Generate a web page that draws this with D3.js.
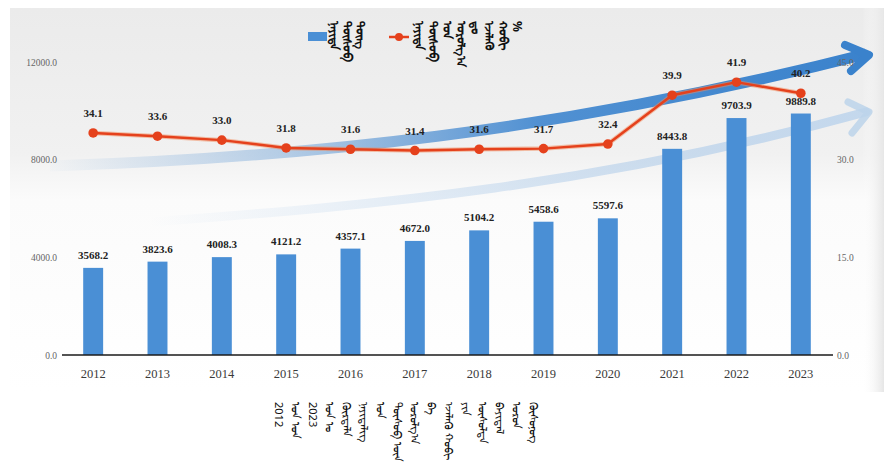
<!DOCTYPE html>
<html>
<head>
<meta charset="utf-8">
<script src="https://cdn.jsdelivr.net/npm/d3@7/dist/d3.min.js"></script>
<style>
  html, body { margin: 0; padding: 0; background: #ffffff; }
  svg { display: block; }
  .mong { writing-mode: vertical-lr; font-family: "Noto Sans", "DejaVu Sans", sans-serif; }
</style>
</head>
<body>
<svg id="chart" width="894" height="465"></svg>
<script>
// ---- data ----
const years = ["2012","2013","2014","2015","2016","2017","2018","2019","2020","2021","2022","2023"];
const amounts = [3568.2, 3823.6, 4008.3, 4121.2, 4357.1, 4672.0, 5104.2, 5458.6, 5597.6, 8443.8, 9703.9, 9889.8];
const shares = [34.1, 33.6, 33.0, 31.8, 31.6, 31.4, 31.6, 31.7, 32.4, 39.9, 41.9, 40.2];
const leftTicks = [0, 4000, 8000, 12000];
const rightTicks = [0, 15, 30, 45];
const legendBarText = ["ᠨᠡᠶᠢᠲᠡ", "ᠲᠥᠰᠥᠪ", "ᠳᠦᠩ"];
const legendLineText = ["ᠨᠡᠶᠢᠲᠡ", "ᠲᠥᠰᠥᠪ", "ᠤᠨ", "ᠣᠷᠣᠯᠭ᠎ᠠ", "ᠳᠤ", "ᠡᠵᠡᠯᠡᠬᠦ", "ᠬᠤᠪᠢ", "%"];
const noteText = ["2012", "ᠣᠨ ᠣᠨ", "2023", "ᠣᠨ ᠤ", "ᠬᠦᠷᠲᠡᠯᠡ", "ᠨᠡᠶᠢᠲᠡᠯᠢᠭ", "ᠤᠨ", "ᠲᠥᠰᠥᠪ ᠦᠨ", "ᠣᠷᠣᠯᠭ᠎ᠠ", "ᠪᠠ", "ᠡᠵᠡᠯᠡᠬᠦ ᠬᠤᠪᠢ", "ᠶᠢᠨ", "ᠥᠰᠦᠯᠲᠡ", "ᠪᠠᠶᠢᠳᠠᠯ", "ᠣᠷᠣᠨ", "ᠬᠦᠰᠦᠨᠦᠭ"];

const svg = d3.select("#chart");
const defs = svg.append("defs");

// background panel gradient
const bg = defs.append("linearGradient").attr("id","bgGrad").attr("x1",0).attr("y1",0).attr("x2",0).attr("y2",1);
bg.append("stop").attr("offset","0%").attr("stop-color","#ebebeb");
bg.append("stop").attr("offset","38%").attr("stop-color","#f1f1f1");
bg.append("stop").attr("offset","50%").attr("stop-color","#fbfbfb");
bg.append("stop").attr("offset","100%").attr("stop-color","#ffffff");
svg.append("rect").attr("x",10).attr("y",8).attr("width",872).attr("height",384).attr("fill","url(#bgGrad)");
const side = defs.append("linearGradient").attr("id","sideGrad").attr("x1",0).attr("y1",0).attr("x2",1).attr("y2",0);
side.append("stop").attr("offset","0%").attr("stop-color","#ffffff").attr("stop-opacity",0);
side.append("stop").attr("offset","100%").attr("stop-color","#e6e6e6");
svg.append("rect").attr("x",862).attr("y",8).attr("width",22).attr("height",384).attr("fill","url(#sideGrad)");

// swoosh gradients
const sw1 = defs.append("linearGradient").attr("id","sw1").attr("gradientUnits","userSpaceOnUse")
  .attr("x1",40).attr("y1",0).attr("x2",870).attr("y2",0);
sw1.append("stop").attr("offset","0%").attr("stop-color","#3f86cf").attr("stop-opacity",0);
sw1.append("stop").attr("offset","30%").attr("stop-color","#3f86cf").attr("stop-opacity",0.35);
sw1.append("stop").attr("offset","60%").attr("stop-color","#3f86cf").attr("stop-opacity",0.9);
sw1.append("stop").attr("offset","100%").attr("stop-color","#3a82cc").attr("stop-opacity",1);
const sw2 = defs.append("linearGradient").attr("id","sw2").attr("gradientUnits","userSpaceOnUse")
  .attr("x1",150).attr("y1",0).attr("x2",870).attr("y2",0);
sw2.append("stop").attr("offset","0%").attr("stop-color","#a9c8e8").attr("stop-opacity",0);
sw2.append("stop").attr("offset","60%").attr("stop-color","#a9c8e8").attr("stop-opacity",0.5);
sw2.append("stop").attr("offset","100%").attr("stop-color","#b9d2ec").attr("stop-opacity",0.8);

// faint lower swoosh
svg.append("path")
  .attr("d","M150,222 C380,205 600,185 866,112")
  .attr("fill","none").attr("stroke","url(#sw2)").attr("stroke-width",9).attr("stroke-linecap","round");
svg.append("path")
  .attr("d","M848,102 L869,112 L852,133")
  .attr("fill","none").attr("stroke","#bcd3ea").attr("stroke-width",7).attr("stroke-linecap","round").attr("stroke-linejoin","round").attr("opacity",0.85);
// main swoosh
svg.append("path")
  .attr("d","M50,166 C300,158 560,132 866,54")
  .attr("fill","none").attr("stroke","url(#sw1)").attr("stroke-width",11).attr("stroke-linecap","butt");
svg.append("path")
  .attr("d","M845,45 L869,55 L851,71")
  .attr("fill","none").attr("stroke","#3a82cc").attr("stroke-width",8).attr("stroke-linecap","round").attr("stroke-linejoin","round");

// ---- scales ----
const x = d3.scaleBand().domain(years).range([61, 833]).paddingInner(0.69).paddingOuter(0.345);
const yL = d3.scaleLinear().domain([0, 12000]).range([355, 62]);
const yR = d3.scaleLinear().domain([0, 45]).range([355, 62]);
const cx = d => x(d) + x.bandwidth() / 2;

// axes
const fontSerif = '"Liberation Serif", "DejaVu Serif", serif';
const gL = svg.append("g").attr("transform","translate(57,0)")
  .call(d3.axisLeft(yL).tickValues(leftTicks).tickSize(0).tickPadding(0).tickFormat(d3.format(".1f")));
gL.select(".domain").remove();
gL.selectAll("text").attr("font-family",fontSerif).attr("font-size",9.5).attr("fill","#666");

const gR = svg.append("g").attr("transform","translate(837,0)")
  .call(d3.axisRight(yR).tickValues(rightTicks).tickSize(0).tickPadding(0).tickFormat(d3.format(".1f")));
gR.select(".domain").remove();
gR.selectAll("text").attr("font-family",fontSerif).attr("font-size",9.5).attr("fill","#666");

// bars
const barColor = "#4a8fd5";
svg.append("g").selectAll("rect").data(years).join("rect")
  .attr("x", d => x(d)).attr("width", x.bandwidth())
  .attr("y", (d,i) => yL(amounts[i])).attr("height", (d,i) => yL(0) - yL(amounts[i]))
  .attr("fill", barColor);

// x axis
const gB = svg.append("g").attr("transform","translate(0,355)")
  .call(d3.axisBottom(x).tickSize(0).tickPadding(14));
gB.select(".domain").attr("stroke","#1a1a1a").attr("stroke-width",1.6).attr("d","M62,0H833");
gB.selectAll("text").attr("font-family",fontSerif).attr("font-size",12.5).attr("fill","#3a3a3a");

// bar labels
svg.append("g").selectAll("text").data(years).join("text")
  .attr("x", d => cx(d)).attr("y", (d,i) => yL(amounts[i]) - 9)
  .attr("text-anchor","middle").attr("font-family",fontSerif).attr("font-weight","bold")
  .attr("font-size",11).attr("fill","#222")
  .text((d,i) => amounts[i].toFixed(1));

// line
const lineColor = "#e5411c";
const line = d3.line().x((d,i) => cx(years[i])).y(d => yR(d));
svg.append("path").datum(shares).attr("d", line)
  .attr("fill","none").attr("stroke","#f28a5a").attr("stroke-width",4.5).attr("opacity",0.5);
svg.append("path").datum(shares).attr("d", line)
  .attr("fill","none").attr("stroke",lineColor).attr("stroke-width",2.4);
svg.append("g").selectAll("circle").data(shares).join("circle")
  .attr("cx",(d,i) => cx(years[i])).attr("cy", d => yR(d)).attr("r",4.8)
  .attr("fill",lineColor);
svg.append("g").selectAll("text").data(shares).join("text")
  .attr("x",(d,i) => cx(years[i])).attr("y", d => yR(d) - 16)
  .attr("text-anchor","middle").attr("font-family",fontSerif).attr("font-weight","bold")
  .attr("font-size",11).attr("fill","#222")
  .text(d => d.toFixed(1));

// legend
const lg = svg.append("g");
lg.append("rect").attr("x",308).attr("y",32).attr("width",19).attr("height",9).attr("fill",barColor);
lg.selectAll("text.l1").data(legendBarText).join("text").attr("class","mong l1")
  .attr("x",(d,i) => 334 + i*13).attr("y",21).attr("font-size",12).attr("font-weight","bold").attr("fill","#111").text(d => d);
lg.append("line").attr("x1",389).attr("x2",409).attr("y1",37).attr("y2",37).attr("stroke",lineColor).attr("stroke-width",2.5);
lg.append("circle").attr("cx",399).attr("cy",37).attr("r",4).attr("fill",lineColor);
lg.selectAll("text.l2").data(legendLineText).join("text").attr("class","mong l2")
  .attr("x",(d,i) => 419 + i*14).attr("y",21).attr("font-size",12).attr("font-weight","bold").attr("fill","#111").text(d => d);

// bottom note
svg.append("g").selectAll("text").data(noteText).join("text").attr("class","mong")
  .attr("x",(d,i) => 279 + i*17).attr("y",402).attr("font-size",11).attr("fill","#111").text(d => d);
</script>
</body>
</html>
